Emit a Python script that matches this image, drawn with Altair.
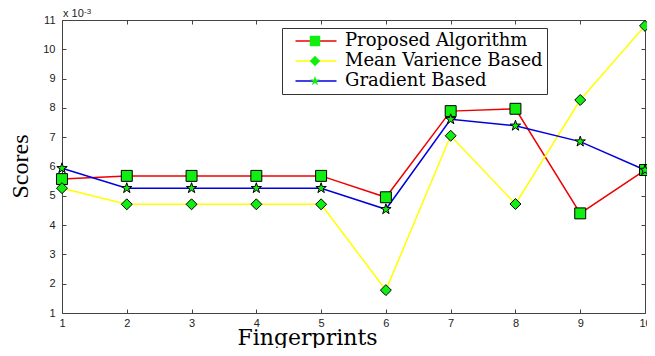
import altair as alt
import pandas as pd

fingerprints = [1, 2, 3, 4, 5, 6, 7, 8, 9, 10]
proposed = [5.57, 5.68, 5.68, 5.68, 5.68, 4.95, 7.89, 7.97, 4.40, 5.88]
mean_var = [5.26, 4.71, 4.71, 4.71, 4.71, 1.78, 7.05, 4.72, 8.27, 10.80]
gradient = [5.94, 5.26, 5.26, 5.26, 5.26, 4.54, 7.61, 7.39, 6.85, 5.88]
series_names = ["Proposed Algorithm", "Mean Varience Based", "Gradient Based"]
marker_names = ["Proposed Algorithm marker", "Mean Varience Based marker",
                "Gradient Based marker"]
x_ticks = [1, 2, 3, 4, 5, 6, 7, 8, 9, 10]
y_ticks = [1, 2, 3, 4, 5, 6, 7, 8, 9, 10, 11]

rows = []
for name, mk, vals in zip(series_names, marker_names, [proposed, mean_var, gradient]):
    for f, v in zip(fingerprints, vals):
        rows.append({"Fingerprint": f, "Score": v, "Series": name, "Marker": mk})
df = pd.DataFrame(rows)

line_colors = ["#ee0000", "#ffff00", "#0000dd"]
STAR = ("M0,-1L0.225,-0.309L0.951,-0.309L0.363,0.118L0.588,0.809L0,0.382"
        "L-0.588,0.809L-0.363,0.118L-0.951,-0.309L-0.225,-0.309Z")
shapes = ["square", "diamond", STAR]

xscale = alt.Scale(domain=[1, 10], nice=False, zero=False)
yscale = alt.Scale(domain=[1, 11], nice=False, zero=False)

ax = dict(grid=False, domain=False, tickSize=4, offset=-4, tickColor="#444",
          tickWidth=1, labelFont="Liberation Sans", labelFontSize=11,
          labelColor="#222", labelFlush=False)

lines = alt.Chart(df).mark_line(strokeWidth=1.5).encode(
    x=alt.X("Fingerprint:Q", scale=xscale,
            axis=alt.Axis(orient="bottom", values=x_ticks, format="d",
                          title="Fingerprints", titleFont="DejaVu Serif",
                          titleFontSize=22, titleFontWeight="normal",
                          titleColor="black", titleX=245, titleY=35,
                          titleAlign="center", titleBaseline="alphabetic",
                          labelPadding=4, **ax)),
    y=alt.Y("Score:Q", scale=yscale,
            axis=alt.Axis(orient="left", values=y_ticks, format="d",
                          title="Scores", titleFont="Liberation Serif",
                          titleFontSize=24, titleFontWeight="normal",
                          titleColor="black", titleX=-46, titleY=146,
                          titleAngle=270, titleAlign="center",
                          titleBaseline="middle", labelPadding=7, **ax)),
    color=alt.Color("Series:N",
                    scale=alt.Scale(domain=series_names, range=line_colors),
                    legend=alt.Legend(orient="none", legendX=220, legendY=8,
                                      title=None, symbolType="M0.1,0H8.3",
                                      symbolSize=100, symbolStrokeWidth=1.5,
                                      labelFont="DejaVu Serif", labelFontSize=18,
                                      labelColor="black", labelOffset=41,
                                      padding=4, rowPadding=2, labelLimit=400,
                                      strokeColor="#333", fillColor="white")),
)

points = alt.Chart(df).mark_point(filled=True, fill="#11ee11", stroke="black",
                                  strokeWidth=1, size=120, opacity=1).encode(
    x=alt.X("Fingerprint:Q", scale=xscale,
            axis=alt.Axis(orient="top", values=x_ticks, labels=False,
                          title=None, **ax)),
    y=alt.Y("Score:Q", scale=yscale,
            axis=alt.Axis(orient="right", values=y_ticks, labels=False,
                          title=None, **ax)),
    shape=alt.Shape("Marker:N",
                    scale=alt.Scale(domain=marker_names, range=shapes),
                    legend=alt.Legend(orient="none", legendX=240, legendY=8,
                                      title=None, symbolFillColor="#11ee11",
                                      symbolStrokeColor="black",
                                      symbolStrokeWidth=1, symbolSize=110,
                                      labelFont="DejaVu Serif", labelFontSize=18,
                                      labelExpr="''", padding=4, rowPadding=2,
                                      labelLimit=400)),
)

note = alt.Chart(pd.DataFrame({"t": ["x 10"]})).mark_text(
    align="left", baseline="alphabetic", font="Liberation Sans", fontSize=11,
    color="#222").encode(x=alt.value(1), y=alt.value(-3), text="t:N")
note_exp = alt.Chart(pd.DataFrame({"t": ["-3"]})).mark_text(
    align="left", baseline="alphabetic", font="Liberation Sans", fontSize=8,
    color="#222").encode(x=alt.value(22), y=alt.value(-6), text="t:N")

chart = alt.layer(lines, points, note, note_exp).properties(
    width=583, height=293,
    autosize=alt.AutoSizeParams(type="none"),
    padding={"left": 54, "top": 12, "right": 2, "bottom": 35},
).configure_view(stroke="#444", strokeWidth=1)

chart.save("out.html", embed_options={"renderer": "svg", "actions": False})
